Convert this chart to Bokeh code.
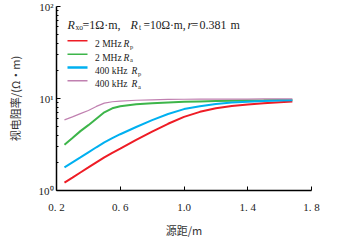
from bokeh.plotting import figure
from bokeh.models import Label, Arrow, FixedTicker, Range1d
from bokeh.embed import file_html
from bokeh.resources import INLINE

# source spacing (m)
spacing = [0.25, 0.3, 0.35, 0.4, 0.45, 0.5, 0.55, 0.6, 0.7, 0.8, 0.9, 1.0,
           1.1, 1.2, 1.3, 1.4, 1.5, 1.6, 1.68]
# apparent resistivity (ohm.m)
rp_2mhz = [1.22, 1.38, 1.57, 1.78, 2.02, 2.29, 2.57, 2.85, 3.55, 4.37, 5.31, 6.31,
           7.16, 7.85, 8.28, 8.61, 8.87, 9.12, 9.29]
ra_2mhz = [3.14, 3.72, 4.42, 5.13, 6.03, 7.08, 7.82, 8.22, 8.67, 8.87, 9.06, 9.20,
           9.29, 9.38, 9.44, 9.51, 9.55, 9.62, 9.66]
rp_400k = [1.78, 2.02, 2.29, 2.60, 2.95, 3.33, 3.70, 4.09, 4.90, 5.82, 6.79, 7.67,
           8.22, 8.71, 9.02, 9.23, 9.38, 9.51, 9.57]
ra_400k = [5.86, 6.31, 6.84, 7.41, 8.20, 8.90, 9.22, 9.38, 9.57, 9.68, 9.77, 9.82,
           9.84, 9.84, 9.86, 9.86, 9.89, 9.89, 9.89]

x_ticks = [0.2, 0.6, 1.0, 1.4, 1.8]
x_tick_labels = ["0. 2", "0. 6", "1.0", "1. 4", "1. 8"]
y_ticks = [1, 10, 100]
y_tick_labels = ["10\u2070", "10\u00b9", "10\u00b2"]
y_minor = [2, 3, 4, 5, 6, 7, 8, 9, 20, 30, 40, 50, 60, 70, 80, 90]

series = [
    ("2 MHz", "p", rp_2mhz, "#ee1c25", 2.0),
    ("2 MHz", "a", ra_2mhz, "#3db54a", 2.0),
    ("400 kHz", "p", rp_400k, "#00b0f0", 2.0),
    ("400 kHz", "a", ra_400k, "#c080b0", 1.2),
]

p = figure(frame_width=255, frame_height=184, y_axis_type="log", output_backend="svg",
           toolbar_location=None, x_range=Range1d(0.2, 1.8), y_range=Range1d(1, 100),
           min_border_left=56, min_border_right=30, min_border_top=6, min_border_bottom=45)
p.outline_line_color = None
p.grid.visible = False
p.background_fill_color = "white"
p.border_fill_color = "white"

for name, sub, vals, col, lw in series:
    p.line(spacing, vals, line_color=col, line_width=lw)

serif = "Liberation Serif"
cjk = "Noto Sans CJK SC"

p.xaxis.ticker = FixedTicker(ticks=x_ticks)
p.xaxis.major_label_overrides = {t: l for t, l in zip(x_ticks, x_tick_labels)}
p.yaxis.ticker = FixedTicker(ticks=y_ticks, minor_ticks=y_minor)
p.yaxis.major_label_overrides = {t: l for t, l in zip(y_ticks, y_tick_labels)}

for ax in (p.xaxis[0], p.yaxis[0]):
    ax.axis_line_color = "black"
    ax.axis_line_width = 1.5
    ax.major_tick_line_color = "black"
    ax.minor_tick_line_color = "black"
    ax.major_tick_in = 4
    ax.major_tick_out = 0
    ax.minor_tick_in = 2
    ax.minor_tick_out = 0
    ax.major_label_text_font = serif
    ax.major_label_text_font_size = "11px"
    ax.major_label_text_color = "#222222"
    ax.axis_label_text_font = cjk
    ax.axis_label_text_font_size = "11px"
    ax.axis_label_text_font_style = "normal"
    ax.axis_label_text_color = "#333333"

p.xaxis.minor_tick_line_color = None
p.xaxis.axis_label = "源距/m"
p.xaxis.major_label_standoff = 10
p.xaxis.axis_label_standoff = 6
p.yaxis.axis_label = "视电阻率/(Ω·m)"
p.yaxis.major_label_standoff = 3
p.yaxis.axis_label_standoff = 13


def lab(x, y, text, size="12px", style="normal", color="#222222"):
    p.add_layout(Label(x=x, y=y, x_units="screen", y_units="screen", text=text,
                       text_font=serif, text_font_size=size, text_font_style=style,
                       text_color=color, text_baseline="alphabetic", text_align="left"))

# annotation line
lab(11, 166, "R", style="italic")
lab(19, 163, "xo", size="7.5px")
lab(26, 166, "=1Ω·m,")
lab(74, 166, "R", style="italic")
lab(82.5, 163, "t", size="7.5px")
lab(87, 166, "=10Ω·m,", size="11.5px")
lab(131, 166, "r", style="italic")
lab(135, 166, "=")
lab(143, 166, "0.381")
lab(174, 166, "m")

# manual legend
rows = [149.7, 136.3, 123.0, 109.7]
leg_lw = [1.5, 1.5, 2.5, 1.5]
for (name, sub, vals, col, lw), yy, llw in zip(series, rows, leg_lw):
    p.add_layout(Arrow(x_start=11, y_start=yy, x_end=31, y_end=yy,
                       start_units="screen", end_units="screen", end=None,
                       line_color=col, line_width=llw))
    lab(38.5, yy - 3.5, name, size="9.5px")
    rx = 67 if name == "2 MHz" else 75
    lab(rx, yy - 3.5, "R", size="9.5px", style="italic")
    lab(rx + 6.5, yy - 5.5, sub, size="6.5px")

open("out.html", "w").write(file_html(p, INLINE))
